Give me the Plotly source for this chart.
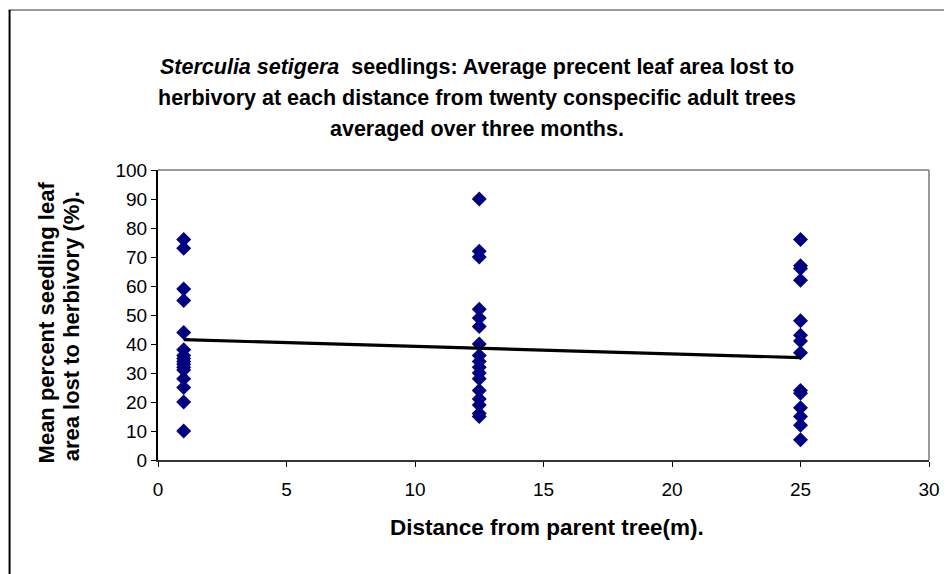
import plotly.graph_objects as go

# distances (m) and per-tree mean leaf area lost (%)
dist_1 = [1] * 16
loss_1 = [76, 73, 59, 55, 44, 38, 36, 35, 34, 33, 32, 31, 28, 25, 20, 10]

dist_12 = [12.5] * 17
loss_12 = [90, 72, 70, 52, 49, 46, 40, 36, 34, 32, 30, 28, 24, 21, 19, 16, 15]

dist_25 = [25] * 14
loss_25 = [76, 67, 66, 62, 48, 43, 41, 37, 24, 23, 18, 15, 12, 7]

# linear trend line
trend_x = [1, 25]
trend_y = [41.5, 35.3]

x_ticks = [0, 5, 10, 15, 20, 25, 30]
y_ticks = [0, 10, 20, 30, 40, 50, 60, 70, 80, 90, 100]

FONT = "Liberation Sans, Arial, sans-serif"
NAVY = "#000080"

# the page body has an 8px margin, so work in page pixels and shift
OFF = 8
W, H = 952 - OFF, 574 - OFF
L, R, T, B = 158 - OFF, 932 - OFF, 170 - OFF, 460 - OFF
pw, ph = R - L, B - T


def px(x):
    return (x - OFF - L) / pw


def py(y):
    return (B - (y - OFF)) / ph


fig = go.Figure()
fig.add_trace(go.Scatter(
    x=dist_1 + dist_12 + dist_25,
    y=loss_1 + loss_12 + loss_25,
    mode="markers",
    marker=dict(symbol="diamond", size=11.5, color=NAVY),
    showlegend=False,
    cliponaxis=False,
))
fig.add_trace(go.Scatter(
    x=trend_x, y=trend_y, mode="lines",
    line=dict(color="black", width=3.2),
    showlegend=False,
))

fig.update_layout(
    width=W, height=H,
    margin=dict(l=L, r=W - R, t=T, b=H - B, pad=0),
    paper_bgcolor="white", plot_bgcolor="white",
    font=dict(family=FONT, color="black", size=19),
    xaxis=dict(
        range=[0, 30], tickvals=x_ticks, showgrid=False, zeroline=False,
        showline=True, linecolor="#333333", linewidth=2,
        ticks="outside", ticklen=5, tickcolor="black", tickwidth=1,
        tickfont=dict(size=19), ticklabelstandoff=6,
    ),
    yaxis=dict(
        range=[0, 100], tickvals=y_ticks, showgrid=False, zeroline=False,
        showline=True, linecolor="black", linewidth=2,
        ticks="outside", ticklen=5, tickcolor="black", tickwidth=1,
        tickfont=dict(size=19), ticklabelstandoff=0,
    ),
    shapes=[
        # gray top/right plot-area frame
        dict(type="line", xref="paper", yref="paper", x0=0, x1=1, y0=1, y1=1,
             line=dict(color="#999999", width=2), layer="below"),
        dict(type="line", xref="paper", yref="paper", x0=1, x1=1, y0=0, y1=1,
             line=dict(color="#999999", width=2), layer="below"),
        # outer chart border (runs off the right and bottom of the window)
        dict(type="line", xref="paper", yref="paper", x0=px(8), x1=px(980),
             y0=py(10), y1=py(10), line=dict(color="#999999", width=2)),
        dict(type="line", xref="paper", yref="paper", x0=px(9), x1=px(9),
             y0=py(10), y1=py(600), line=dict(color="black", width=2)),
    ],
)

title_lines = [
    "<i>Sterculia setigera</i>  seedlings: Average precent leaf area lost to",
    "herbivory at each distance from twenty conspecific adult trees",
    "averaged over three months.",
]
for i, line in enumerate(title_lines):
    fig.add_annotation(
        text=f"<b>{line}</b>", xref="paper", yref="paper",
        x=px(478), y=py(67 + 31 * i), showarrow=False,
        xanchor="center", yanchor="middle",
        font=dict(family=FONT, size=21.5, color="black"),
    )

fig.add_annotation(
    text="<b>Distance from parent tree(m).</b>", xref="paper", yref="paper",
    x=px(549), y=py(527), showarrow=False, xanchor="center", yanchor="middle",
    font=dict(family=FONT, size=22.5, color="black"),
)
fig.add_annotation(
    text="<b>Mean percent seedling leaf</b>", xref="paper", yref="paper",
    x=px(46), y=py(322), showarrow=False, textangle=-90,
    xanchor="center", yanchor="middle",
    font=dict(family=FONT, size=22, color="black"),
)
fig.add_annotation(
    text="<b>area lost to herbivory (%).</b>", xref="paper", yref="paper",
    x=px(71), y=py(326), showarrow=False, textangle=-90,
    xanchor="center", yanchor="middle",
    font=dict(family=FONT, size=22, color="black"),
)

fig.write_html("out.html")
